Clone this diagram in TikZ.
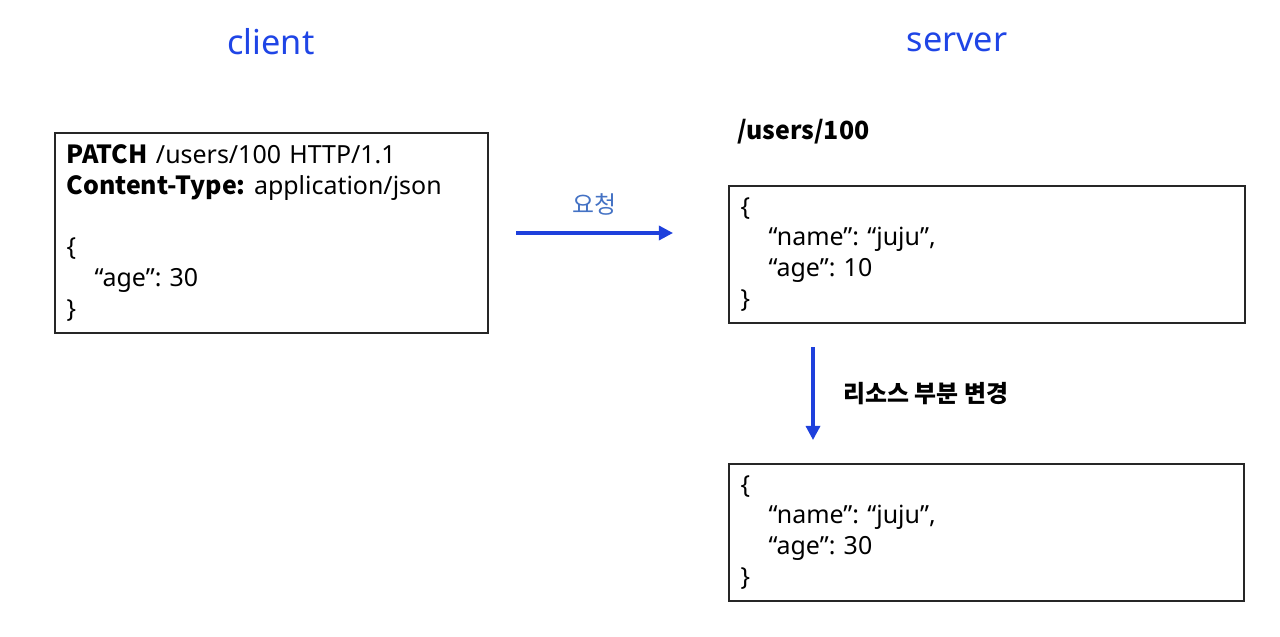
\documentclass[tikz,border=0pt]{standalone}
\usepackage{fontspec}
\setmainfont{Noto Sans}
\newfontfamily\kr{Noto Sans CJK KR}
\newcommand\keyword[1]{{\kr\bfseries #1}}
\frenchspacing
\usetikzlibrary{arrows.meta}
\definecolor{titleblue}{HTML}{1F45E6}
\definecolor{arrowblue}{HTML}{1E40DC}
\definecolor{labelblue}{HTML}{4472C4}
\tikzset{
    title/.style={text=titleblue,font=\fontsize{19.5}{24}\selectfont},
    jsonbox/.style={draw=black!85,line width=0.8pt,align=left,inner xsep=0.23cm,
        font=\fontsize{14.2}{17.6}\selectfont},
    flow/.style={draw=arrowblue,line width=1.8pt,-{Triangle[length=8pt,width=8pt]}},
}
\begin{document}
\begin{tikzpicture}[x=0.02cm,y=-0.02cm]
        \useasboundingbox (0,0) rectangle (1280,636);
        % titles
        \node (client) [title] at (271,42) {client};
        \node (server) [title] at (957,42) {server};
        % request
        \node (req) [jsonbox,minimum width=8.66cm,minimum height=4cm,text width=8.2cm] at (271.5,233)
            {\keyword{PATCH} /users/100 HTTP/1.1\\
             \keyword{Content-Type:} application/json\\
             ~\\
             \{\\
             \hspace*{16pt}“age”: 30\\
             \}};
        % resource before and after
        \node (path) [anchor=west,font=\fontsize{14.2}{17.6}\selectfont] at (731,132) {\keyword{/users/100}};
        \node (old) [jsonbox,minimum width=10.32cm,minimum height=2.74cm,text width=9.86cm] at (987,254.5)
            {\{\\
             \hspace*{16pt}“name”: “juju”,\\
             \hspace*{16pt}“age”: 10\\
             \}};
        \node (new) [jsonbox,minimum width=10.3cm,minimum height=2.74cm,text width=9.84cm] at (986.5,532.5)
            {\{\\
             \hspace*{16pt}“name”: “juju”,\\
             \hspace*{16pt}“age”: 30\\
             \}};
        % arrows
        \coordinate (send) at (516,233);
        \coordinate (recv) at (673,233);
        \coordinate (top) at (813,347);
        \coordinate (bottom) at (813,440);
        \draw [flow] (send) -- (recv) node [midway,above=6pt,text=labelblue,font=\kr\fontsize{13.6}{17.6}\selectfont] (reqlabel) {요청};
        \draw [flow] (top) -- (bottom) node [midway,right=13pt,font=\kr\fontsize{13.6}{17.6}\selectfont\bfseries] (change) {리소스 부분 변경};
    \end{tikzpicture}
\end{document}
